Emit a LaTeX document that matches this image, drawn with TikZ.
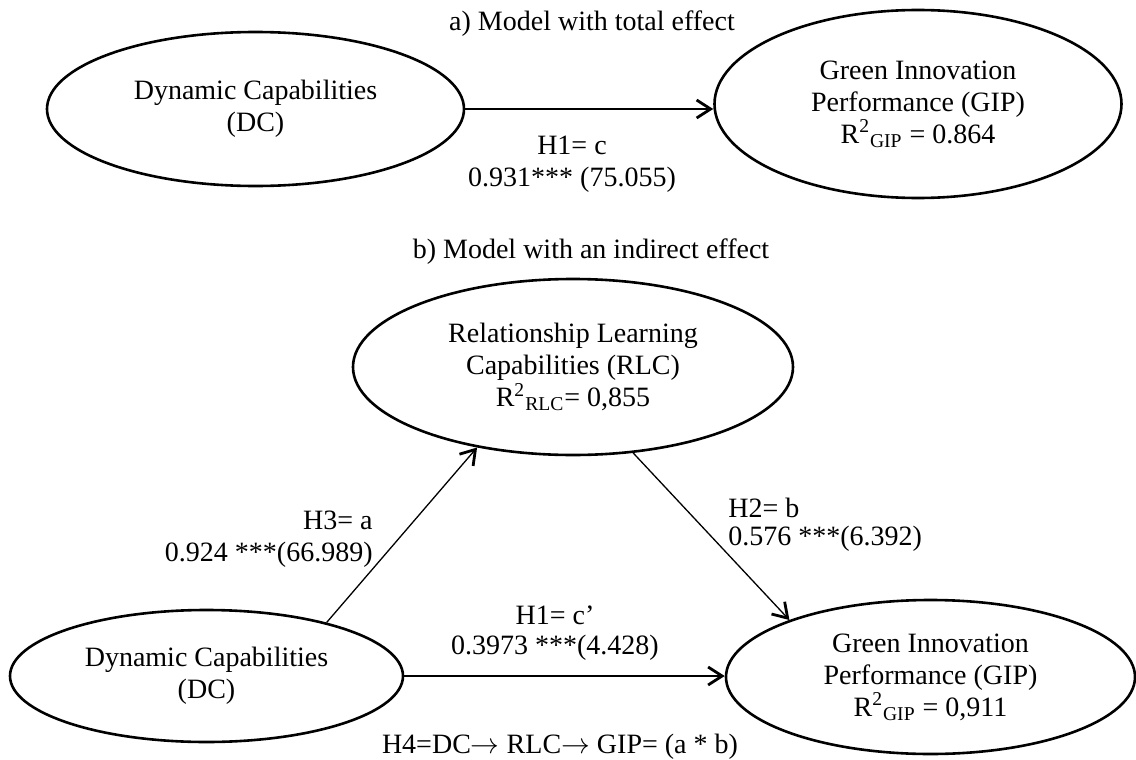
\documentclass[tikz,border=0pt]{standalone}
\usepackage{fontspec}
\setmainfont{Liberation Serif}
\usetikzlibrary{arrows.meta,shapes.geometric}
\begin{document}
\begin{tikzpicture}[x=0.5pt,y=-0.5pt,
  every node/.style={font=\fontsize{14}{16}\selectfont},
  latent/.style={ellipse, draw, line width=1.3pt, inner sep=0pt, align=center},
  lbl/.style={inner sep=0pt},
  conn/.style={line width=0.95pt, -{Straight Barb[length=7pt,width=9pt,line width=1.4pt]}},
  diag/.style={line width=0.65pt, -{Straight Barb[length=7pt,width=9pt,line width=1.4pt]}}
]
\useasboundingbox (0,0) rectangle (1136,760);
% panel a
\node[lbl] (titleA) at (592,24) {a) Model with total effect};
\node[latent, minimum width=208.5pt, minimum height=77pt] (DCa) at (255.5,109) {Dynamic Capabilities\\(DC)};
\node[latent, minimum width=203.5pt, minimum height=94pt] (GIPa) at (918,104) {Green Innovation\\Performance (GIP)\\R\textsuperscript{2}\textsubscript{GIP} = 0.864};
\draw[conn] (DCa.east) -- (DCa.east -| GIPa.west);
\node[lbl, align=center] (lblC) at (572,164) {H1= c\\0.931*** (75.055)};
% panel b
\node[lbl] (titleB) at (591,252) {b) Model with an indirect effect};
\node[latent, minimum width=220pt, minimum height=88pt] (RLC) at (573,367) {Relationship Learning\\Capabilities (RLC)\\R\textsuperscript{2}\textsubscript{RLC}= 0,855};
\node[latent, minimum width=196.5pt, minimum height=66pt] (DCb) at (206.5,676) {Dynamic Capabilities\\(DC)};
\node[latent, minimum width=204.5pt, minimum height=77pt] (GIPb) at (930.5,677) {Green Innovation\\Performance (GIP)\\R\textsuperscript{2}\textsubscript{GIP} = 0,911};
\draw[diag] (DCb.24) -- (RLC.220.4);
\draw[diag] (RLC.305.8) -- (GIPb.158.5);
\draw[conn] (DCb.east) -- (DCb.east -| GIPb.west);
\node[lbl, align=right, anchor=east] (lblA) at (373,539) {H3= a\hspace{9pt}\\0.924 ***(66.989)};
\node[lbl, align=left, anchor=west] (lblB) at (728,525) {H2= b\\[-2pt]0.576 ***(6.392)};
\node[lbl, align=center] (lblCp) at (555,633) {H1= c’\\[-1pt]0.3973 ***(4.428)};
\node[lbl] (lblH4) at (560,747) {H4=DC$\rightarrow$ RLC$\rightarrow$ GIP= (a * b)};
\end{tikzpicture}
\end{document}
